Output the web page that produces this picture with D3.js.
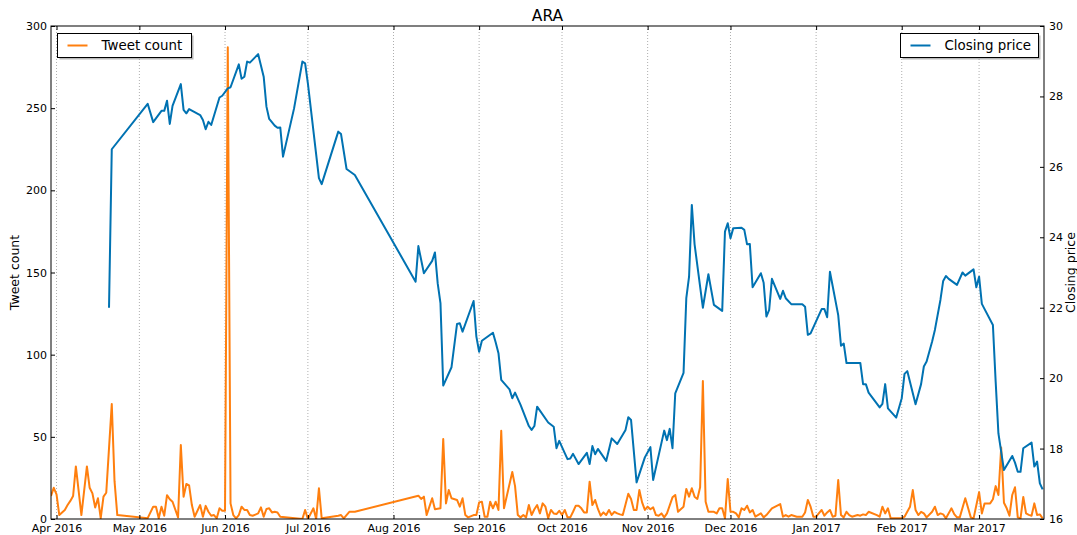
<!DOCTYPE html>
<html>
<head>
<meta charset="utf-8">
<script src="https://cdn.jsdelivr.net/npm/d3@7"></script>
<style>
  body { margin: 0; background: #fff; }
  svg { font-family: "DejaVu Sans", sans-serif; }
</style>
</head>
<body>
<div id="chart"></div>
<script>
// daily tweet counts (left axis)
const tweetSeries = [
  ["2016-03-30",14],["2016-03-31",19],["2016-04-01",15],["2016-04-02",2.4],["2016-04-03",4],
  ["2016-04-04",5.5],["2016-04-05",8.5],["2016-04-06",11],["2016-04-07",14],["2016-04-08",32],
  ["2016-04-10",2.4],["2016-04-12",32],["2016-04-13",19],["2016-04-14",15.6],["2016-04-15",7],
  ["2016-04-16",12.6],["2016-04-17",0.5],["2016-04-18",13.6],["2016-04-19",16],["2016-04-20",43],
  ["2016-04-21",70],["2016-04-22",23],["2016-04-23",2.4],["2016-05-04",0.5],["2016-05-06",7.5],
  ["2016-05-07",7.5],["2016-05-08",0.5],["2016-05-09",7.5],["2016-05-10",2],["2016-05-11",14.5],
  ["2016-05-12",12],["2016-05-13",10.5],["2016-05-15",1],["2016-05-16",45],["2016-05-17",13.5],
  ["2016-05-18",21.3],["2016-05-19",20.5],["2016-05-20",8.5],["2016-05-21",1.4],["2016-05-23",8.5],
  ["2016-05-24",1.4],["2016-05-25",8],["2016-05-26",4.4],["2016-05-27",2],["2016-05-28",2.4],
  ["2016-05-29",0.4],["2016-05-30",6.5],["2016-05-31",5],["2016-06-01",5],["2016-06-02",287],
  ["2016-06-03",9.5],["2016-06-04",2.4],["2016-06-05",0.4],["2016-06-06",2.4],["2016-06-07",7.5],
  ["2016-06-08",5.5],["2016-06-09",5.5],["2016-06-10",2.4],["2016-06-11",2],["2016-06-12",2.7],
  ["2016-06-13",3.4],["2016-06-14",7.1],["2016-06-15",1.4],["2016-06-16",6.1],["2016-06-17",6.5],
  ["2016-06-18",4],["2016-06-19",4.4],["2016-06-20",4],["2016-06-21",1.4],["2016-06-29",0],
  ["2016-06-30",5.5],["2016-07-01",0],["2016-07-03",6.5],["2016-07-04",0],["2016-07-05",18.7],
  ["2016-07-06",0.4],["2016-07-12",2],["2016-07-13",2.4],["2016-07-14",0.4],["2016-07-16",4.4],
  ["2016-07-18",4.4],["2016-08-10",14.2],["2016-08-11",12.2],["2016-08-12",13.6],["2016-08-13",2.4],
  ["2016-08-15",12.6],["2016-08-16",5.9],["2016-08-18",6.5],["2016-08-19",48.7],["2016-08-20",9.5],
  ["2016-08-21",17.6],["2016-08-22",12.6],["2016-08-24",11.6],["2016-08-25",7.5],["2016-08-26",12.6],
  ["2016-08-27",2.4],["2016-08-28",1],["2016-08-30",2.4],["2016-08-31",2.4],["2016-09-01",10.1],
  ["2016-09-02",10.5],["2016-09-03",1.4],["2016-09-04",1.4],["2016-09-05",10.5],["2016-09-06",6.5],
  ["2016-09-07",10.5],["2016-09-08",5.5],["2016-09-09",53.7],["2016-09-10",6.5],["2016-09-13",28.6],
  ["2016-09-14",20],["2016-09-15",2.4],["2016-09-16",1],["2016-09-17",2.4],["2016-09-18",1],
  ["2016-09-19",8.5],["2016-09-20",2.4],["2016-09-21",5.9],["2016-09-22",8.5],["2016-09-23",3.4],
  ["2016-09-24",9.5],["2016-09-25",7.5],["2016-09-26",0.5],["2016-09-27",5.5],["2016-09-28",3.4],
  ["2016-09-29",3],["2016-09-30",5],["2016-10-01",2.4],["2016-10-02",5.5],["2016-10-03",1],
  ["2016-10-04",1],["2016-10-05",4.4],["2016-10-06",8.1],["2016-10-07",8.1],["2016-10-08",6.5],
  ["2016-10-09",4],["2016-10-10",4],["2016-10-11",22.7],["2016-10-12",8.5],["2016-10-13",11.6],
  ["2016-10-14",6.1],["2016-10-15",2],["2016-10-16",4],["2016-10-17",2.4],["2016-10-18",5.5],
  ["2016-10-19",2.5],["2016-10-20",4.4],["2016-10-21",3.4],["2016-10-22",2.8],["2016-10-23",2.4],
  ["2016-10-25",15.4],["2016-10-26",12.2],["2016-10-27",5.5],["2016-10-28",5.5],["2016-10-29",17.6],
  ["2016-10-30",10.1],["2016-10-31",5.5],["2016-11-01",7.5],["2016-11-02",5.9],["2016-11-03",7.1],
  ["2016-11-04",2.4],["2016-11-05",2],["2016-11-06",3.4],["2016-11-07",1],["2016-11-08",3.4],
  ["2016-11-10",13.2],["2016-11-11",14.6],["2016-11-12",4.4],["2016-11-14",7.5],["2016-11-15",18.3],
  ["2016-11-16",13.6],["2016-11-17",18.7],["2016-11-18",13.6],["2016-11-19",12.2],["2016-11-20",19.3],
  ["2016-11-21",84],["2016-11-22",10.5],["2016-11-23",4.4],["2016-11-24",4.4],["2016-11-25",4.4],
  ["2016-11-26",3.4],["2016-11-27",6.5],["2016-11-28",6.5],["2016-11-29",0.4],["2016-11-30",24.3],
  ["2016-12-01",4.4],["2016-12-02",4.4],["2016-12-03",3.4],["2016-12-04",1],["2016-12-05",6.5],
  ["2016-12-06",5.5],["2016-12-07",8.1],["2016-12-08",4],["2016-12-09",5.5],["2016-12-10",1.4],
  ["2016-12-12",3.4],["2016-12-13",1],["2016-12-14",2.4],["2016-12-16",6.5],["2016-12-19",9.1],
  ["2016-12-20",1.4],["2016-12-21",2.4],["2016-12-22",1.4],["2016-12-23",2.4],["2016-12-25",1.4],
  ["2016-12-27",1.4],["2016-12-28",4],["2016-12-29",11.6],["2016-12-30",7.5],["2016-12-31",1.4],
  ["2017-01-01",1.4],["2017-01-03",5.5],["2017-01-04",2],["2017-01-05",4],["2017-01-06",5.5],
  ["2017-01-07",1.4],["2017-01-08",2],["2017-01-09",23.7],["2017-01-10",2.4],["2017-01-11",1],
  ["2017-01-12",4.4],["2017-01-13",2.4],["2017-01-14",1.4],["2017-01-16",2.4],["2017-01-17",2],
  ["2017-01-18",2.8],["2017-01-19",2.4],["2017-01-20",4.4],["2017-01-23",2.4],["2017-01-24",1.4],
  ["2017-01-25",7.5],["2017-01-26",3.4],["2017-01-27",6.5],["2017-01-28",0.4],["2017-01-30",0.4],
  ["2017-02-01",0.4],["2017-02-02",1.4],["2017-02-04",7.5],["2017-02-05",17.6],["2017-02-06",5.5],
  ["2017-02-07",2.4],["2017-02-08",4.4],["2017-02-09",3.4],["2017-02-10",1],["2017-02-12",4.4],
  ["2017-02-13",7.5],["2017-02-14",2.4],["2017-02-15",3.4],["2017-02-16",2.8],["2017-02-17",0.4],
  ["2017-02-19",6.5],["2017-02-20",3],["2017-02-21",1],["2017-02-22",1],["2017-02-24",12.6],
  ["2017-02-26",1],["2017-02-27",0.4],["2017-03-01",16.3],["2017-03-02",3.4],["2017-03-03",9.5],
  ["2017-03-05",9.5],["2017-03-06",12],["2017-03-07",20],["2017-03-08",14.6],["2017-03-09",43.5],
  ["2017-03-10",9.9],["2017-03-11",6.5],["2017-03-12",2],["2017-03-13",14.6],["2017-03-14",19.3],
  ["2017-03-15",1],["2017-03-16",0.4],["2017-03-17",13.4],["2017-03-18",3.4],["2017-03-19",2.5],
  ["2017-03-20",2],["2017-03-21",9.5],["2017-03-22",2.4],["2017-03-23",2.8],["2017-03-24",0.4]
];

// closing price (right axis)
const priceSeries = [
  ["2016-04-20",22.0],["2016-04-21",26.5],["2016-05-04",27.79],["2016-05-06",27.27],["2016-05-09",27.59],
  ["2016-05-10",27.59],["2016-05-11",27.88],["2016-05-12",27.22],["2016-05-13",27.73],["2016-05-16",28.35],
  ["2016-05-17",27.62],["2016-05-18",27.52],["2016-05-19",27.64],["2016-05-23",27.47],["2016-05-24",27.33],
  ["2016-05-25",27.07],["2016-05-26",27.28],["2016-05-27",27.19],["2016-05-30",27.97],["2016-05-31",28.02],
  ["2016-06-02",28.23],["2016-06-03",28.26],["2016-06-06",28.91],["2016-06-07",28.5],["2016-06-08",28.56],
  ["2016-06-09",28.99],["2016-06-10",28.96],["2016-06-13",29.2],["2016-06-15",28.56],["2016-06-16",27.71],
  ["2016-06-17",27.36],["2016-06-19",27.17],["2016-06-20",27.11],["2016-06-21",27.12],["2016-06-22",26.29],
  ["2016-06-26",27.66],["2016-06-29",28.99],["2016-06-30",28.94],["2016-07-01",28.37],["2016-07-05",25.68],
  ["2016-07-06",25.51],["2016-07-12",27.0],["2016-07-13",26.93],["2016-07-15",25.94],["2016-07-18",25.77],
  ["2016-08-09",22.74],["2016-08-10",23.75],["2016-08-12",22.98],["2016-08-15",23.33],["2016-08-16",23.57],
  ["2016-08-17",22.69],["2016-08-18",22.13],["2016-08-19",19.79],["2016-08-22",20.31],["2016-08-24",21.54],
  ["2016-08-25",21.56],["2016-08-26",21.32],["2016-08-30",22.19],["2016-08-31",21.18],["2016-09-01",20.75],
  ["2016-09-02",21.06],["2016-09-06",21.29],["2016-09-07",21.01],["2016-09-08",20.71],["2016-09-09",19.95],
  ["2016-09-12",19.68],["2016-09-13",19.43],["2016-09-14",19.59],["2016-09-16",19.24],["2016-09-19",18.64],
  ["2016-09-20",18.53],["2016-09-21",18.64],["2016-09-22",19.19],["2016-09-26",18.74],["2016-09-28",18.62],
  ["2016-09-29",18.01],["2016-09-30",18.22],["2016-10-02",17.87],["2016-10-03",17.7],["2016-10-04",17.72],
  ["2016-10-05",17.85],["2016-10-07",17.56],["2016-10-10",17.88],["2016-10-11",17.56],["2016-10-12",18.07],
  ["2016-10-13",17.84],["2016-10-14",17.99],["2016-10-17",17.65],["2016-10-19",18.29],["2016-10-21",18.13],
  ["2016-10-24",18.53],["2016-10-25",18.89],["2016-10-26",18.81],["2016-10-28",17.04],["2016-10-31",17.75],
  ["2016-11-02",18.04],["2016-11-03",17.11],["2016-11-07",18.51],["2016-11-08",18.24],["2016-11-09",18.56],
  ["2016-11-10",18.01],["2016-11-11",19.57],["2016-11-14",20.15],["2016-11-15",22.27],["2016-11-16",22.88],
  ["2016-11-17",24.92],["2016-11-18",23.8],["2016-11-21",22.0],["2016-11-23",22.95],["2016-11-25",22.08],
  ["2016-11-28",21.91],["2016-11-29",24.16],["2016-11-30",24.4],["2016-12-01",23.97],["2016-12-02",24.26],
  ["2016-12-05",24.27],["2016-12-06",24.21],["2016-12-07",23.8],["2016-12-08",23.81],["2016-12-09",22.58],
  ["2016-12-12",22.98],["2016-12-13",22.71],["2016-12-14",21.75],["2016-12-15",21.94],["2016-12-16",22.82],
  ["2016-12-19",22.25],["2016-12-20",22.48],["2016-12-21",22.27],["2016-12-23",22.1],["2016-12-27",22.1],
  ["2016-12-28",22.03],["2016-12-29",21.23],["2016-12-30",21.27],["2017-01-03",21.96],["2017-01-04",21.96],
  ["2017-01-05",21.73],["2017-01-06",23.02],["2017-01-09",21.79],["2017-01-10",20.92],["2017-01-11",20.98],
  ["2017-01-12",20.43],["2017-01-17",20.43],["2017-01-18",19.83],["2017-01-19",19.83],["2017-01-20",19.59],
  ["2017-01-24",19.17],["2017-01-25",19.27],["2017-01-26",19.83],["2017-01-27",19.14],["2017-01-30",18.88],
  ["2017-02-01",19.43],["2017-02-02",20.12],["2017-02-03",20.2],["2017-02-06",19.26],["2017-02-08",19.83],
  ["2017-02-09",20.33],["2017-02-10",20.47],["2017-02-12",21.04],["2017-02-13",21.37],["2017-02-15",22.22],
  ["2017-02-16",22.76],["2017-02-17",22.9],["2017-02-18",22.82],["2017-02-21",22.65],["2017-02-23",23.0],
  ["2017-02-24",22.91],["2017-02-27",23.09],["2017-02-28",22.58],["2017-03-01",22.88],["2017-03-02",22.11],
  ["2017-03-06",21.51],["2017-03-07",19.9],["2017-03-08",18.43],["2017-03-10",17.39],["2017-03-13",17.79],
  ["2017-03-14",17.6],["2017-03-15",17.34],["2017-03-16",17.34],["2017-03-17",18.01],["2017-03-20",18.17],
  ["2017-03-21",17.49],["2017-03-22",17.63],["2017-03-23",17.01],["2017-03-24",16.84]
];

const tweetTicks = [0, 50, 100, 150, 200, 250, 300];
const priceTicks = [16, 18, 20, 22, 24, 26, 28, 30];

const W = 1077, H = 535;
const margin = { top: 26, right: 33, bottom: 16, left: 51 };
const width = W - margin.left - margin.right;
const height = H - margin.top - margin.bottom;

const parse = d3.timeParse("%Y-%m-%d");
const tweets = tweetSeries.map(([d, v]) => ({ date: parse(d), value: v }));
const prices = priceSeries.map(([d, v]) => ({ date: parse(d), value: v }));

const svg = d3.select("#chart").append("svg")
  .attr("width", W).attr("height", H);

svg.append("defs").append("clipPath").attr("id", "clip")
  .append("rect").attr("width", width).attr("height", height);

const g = svg.append("g")
  .attr("transform", `translate(${margin.left},${margin.top})`);

const x = d3.scaleTime()
  .domain([new Date(2016, 2, 30), new Date(2017, 2, 24, 12)])
  .range([0, width]);
const yL = d3.scaleLinear().domain([0, 300]).range([height, 0]);
const yR = d3.scaleLinear().domain([16, 30]).range([height, 0]);

const months = x.ticks(d3.timeMonth.every(1));

// dotted vertical grid
g.append("g").selectAll("line")
  .data(months).enter().append("line")
    .attr("x1", d => x(d)).attr("x2", d => x(d))
    .attr("y1", 0).attr("y2", height)
    .attr("stroke", "#999").attr("stroke-width", 0.8)
    .attr("stroke-dasharray", "1,2");

// lines
const lineL = d3.line().x(d => x(d.date)).y(d => yL(d.value));
const lineR = d3.line().x(d => x(d.date)).y(d => yR(d.value));

const plot = g.append("g").attr("clip-path", "url(#clip)");
plot.append("path").datum(tweets)
  .attr("fill", "none").attr("stroke", "#ff7f0e")
  .attr("stroke-width", 2).attr("stroke-linejoin", "round")
  .attr("d", lineL);
plot.append("path").datum(prices)
  .attr("fill", "none").attr("stroke", "#0072b2")
  .attr("stroke-width", 2).attr("stroke-linejoin", "round")
  .attr("d", lineR);

// axes, ticks pointing inward
function styleAxis(sel) {
  sel.select(".domain").remove();
  sel.selectAll("line").attr("stroke", "#000");
  sel.selectAll("text").attr("fill", "#000")
    .style("font-size", "11px").style("font-family", "DejaVu Sans");
}

g.append("g").attr("transform", `translate(0,${height})`)
  .call(d3.axisBottom(x).tickValues(months).tickFormat(d3.timeFormat("%b %Y"))
    .tickSize(-4).tickSizeOuter(0).tickPadding(5))
  .call(styleAxis);
g.append("g")
  .call(d3.axisTop(x).tickValues(months).tickFormat("")
    .tickSize(-4).tickSizeOuter(0))
  .call(styleAxis);
g.append("g")
  .call(d3.axisLeft(yL).tickValues(tweetTicks).tickSize(-4).tickSizeOuter(0).tickPadding(4))
  .call(styleAxis);
g.append("g").attr("transform", `translate(${width},0)`)
  .call(d3.axisRight(yR).tickValues(priceTicks).tickSize(-4).tickSizeOuter(0).tickPadding(5))
  .call(styleAxis);

// frame
g.append("rect").attr("width", width).attr("height", height)
  .attr("fill", "none").attr("stroke", "#000").attr("stroke-width", 1);

// titles
svg.append("text").attr("x", margin.left + width / 2).attr("y", 21)
  .attr("text-anchor", "middle").style("font-size", "15.5px").text("ARA");
svg.append("text")
  .attr("transform", `translate(19,${margin.top + height / 2}) rotate(-90)`)
  .attr("text-anchor", "middle").style("font-size", "12.5px").text("Tweet count");
svg.append("text")
  .attr("transform", `translate(1075,${margin.top + height / 2}) rotate(-90)`)
  .attr("text-anchor", "middle").style("font-size", "12.5px").text("Closing price");

// legends
function legend(x0, y0, w, color, label) {
  const lg = svg.append("g").attr("transform", `translate(${x0},${y0})`);
  lg.append("rect").attr("x", 2).attr("y", 2).attr("width", w).attr("height", 24)
    .attr("fill", "#888").attr("opacity", 0.6);
  lg.append("rect").attr("width", w).attr("height", 24)
    .attr("fill", "#fff").attr("stroke", "#000").attr("stroke-width", 1);
  lg.append("line").attr("x1", 10).attr("x2", 30).attr("y1", 12).attr("y2", 12)
    .attr("stroke", color).attr("stroke-width", 2);
  lg.append("text").attr("x", 44).attr("y", 16.5)
    .style("font-size", "13.4px").text(label);
}
legend(57.5, 33.5, 134, "#ff7f0e", "Tweet count");
legend(900.5, 33.5, 138, "#0072b2", "Closing price");
</script>
</body>
</html>
